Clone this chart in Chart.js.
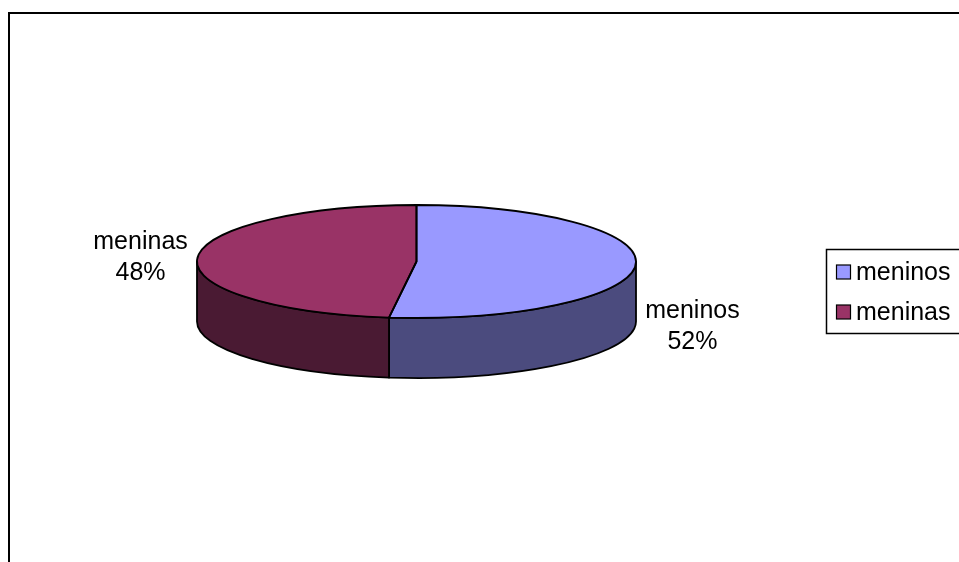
<!DOCTYPE html>
<html>
<head>
<meta charset="utf-8">
<script src="https://cdn.jsdelivr.net/npm/chart.js@4.4.1/dist/chart.umd.min.js"></script>
<style>
  html, body { margin: 0; padding: 0; background: #ffffff; }
  #wrap { width: 959px; height: 562px; position: relative; }
</style>
</head>
<body>
<div id="wrap"><canvas id="c" width="959" height="562"></canvas></div>
<script>
// ---- data ----
const categories = ['meninos', 'meninas'];
const values = [52, 48];
const topColors = ['#9999FF', '#993366'];
const sideColors = ['#4B4B7E', '#4A1A33'];

// ---- style constants ----
const FONT = '25px "Liberation Sans", Arial, sans-serif';
const TILT = 0.2574;   // vertical squash of the pie
const DEPTH = 60;      // thickness of the pie in px

function frontRange(s, e) {
  const out = [];
  for (const off of [-2 * Math.PI, 0, 2 * Math.PI]) {
    const a = Math.max(s, off), b = Math.min(e, off + Math.PI);
    if (b > a) out.push([a, b]);
  }
  return out;
}

const pie3d = {
  id: 'pie3d',
  beforeDatasetsDraw(chart) {
    const ctx = chart.ctx;
    const arcs = chart.getDatasetMeta(0).data;
    const cx = arcs[0].x, cy = arcs[0].y, R = arcs[0].outerRadius, ry = R * TILT;
    ctx.save();
    ctx.lineWidth = 1.8;
    ctx.strokeStyle = '#000';
    ctx.lineJoin = 'round';
    arcs.forEach((arc, i) => {
      frontRange(arc.startAngle, arc.endAngle).forEach(([a, b]) => {
        ctx.beginPath();
        ctx.ellipse(cx, cy, R, ry, 0, a, b, false);
        ctx.ellipse(cx, cy + DEPTH, R, ry, 0, b, a, true);
        ctx.closePath();
        ctx.fillStyle = sideColors[i];
        ctx.fill();
        ctx.stroke();
      });
    });
    ctx.restore();
    ctx.save();
    ctx.translate(cx, cy);
    ctx.scale(1, TILT);
    ctx.translate(-cx, -cy);
  },
  afterDatasetsDraw(chart) {
    const ctx = chart.ctx;
    ctx.restore();
    const arcs = chart.getDatasetMeta(0).data;
    const cx = arcs[0].x, cy = arcs[0].y, R = arcs[0].outerRadius, ry = R * TILT;
    const total = values.reduce((a, b) => a + b, 0);
    ctx.save();
    ctx.lineWidth = 1.8;
    ctx.strokeStyle = '#000';
    ctx.lineJoin = 'round';
    arcs.forEach((arc) => {
      const s = arc.startAngle, e = arc.endAngle;
      ctx.beginPath();
      ctx.moveTo(cx, cy);
      ctx.lineTo(cx + R * Math.cos(s), cy + ry * Math.sin(s));
      ctx.ellipse(cx, cy, R, ry, 0, s, e, false);
      ctx.closePath();
      ctx.stroke();
    });
    ctx.fillStyle = '#000';
    ctx.font = FONT;
    ctx.textAlign = 'center';
    ctx.textBaseline = 'middle';
    arcs.forEach((arc, i) => {
      const m = (arc.startAngle + arc.endAngle) / 2;
      const lx = cx + (R + 57) * Math.cos(m);
      const ly = cy + ry * Math.sin(m) + (Math.sin(m) > 0 ? DEPTH + 2 : 0);
      const pct = Math.round(values[i] / total * 100) + '%';
      ctx.fillText(categories[i], lx, ly - 15.5);
      ctx.fillText(pct, lx, ly + 15.5);
    });
    ctx.restore();
  },
  afterDraw(chart) {
    const ctx = chart.ctx;
    ctx.save();
    ctx.lineWidth = 2;
    ctx.strokeStyle = '#000';
    ctx.strokeRect(9, 13, 1000, 1000);
    ctx.lineWidth = 1.5;
    ctx.strokeRect(826.5, 249.5, 200, 84);
    const rows = [272.5, 312.5];
    ctx.font = FONT;
    ctx.textAlign = 'left';
    ctx.textBaseline = 'middle';
    categories.forEach((c, i) => {
      ctx.fillStyle = topColors[i];
      ctx.fillRect(836.5, rows[i] - 7.5, 14, 14);
      ctx.lineWidth = 1.2;
      ctx.strokeRect(836.5, rows[i] - 7.5, 14, 14);
      ctx.fillStyle = '#000';
      ctx.fillText(c, 856, rows[i] + 1);
    });
    ctx.restore();
  }
};

new Chart(document.getElementById('c'), {
  type: 'pie',
  data: {
    labels: categories,
    datasets: [{
      data: values,
      backgroundColor: topColors,
      borderWidth: 0
    }]
  },
  options: {
    responsive: false,
    animation: false,
    layout: { padding: { left: 197, top: 42, right: 323, bottom: 81 } },
    plugins: {
      legend: { display: false },
      tooltip: { enabled: false },
      title: { display: false }
    }
  },
  plugins: [pie3d]
});
</script>
</body>
</html>
